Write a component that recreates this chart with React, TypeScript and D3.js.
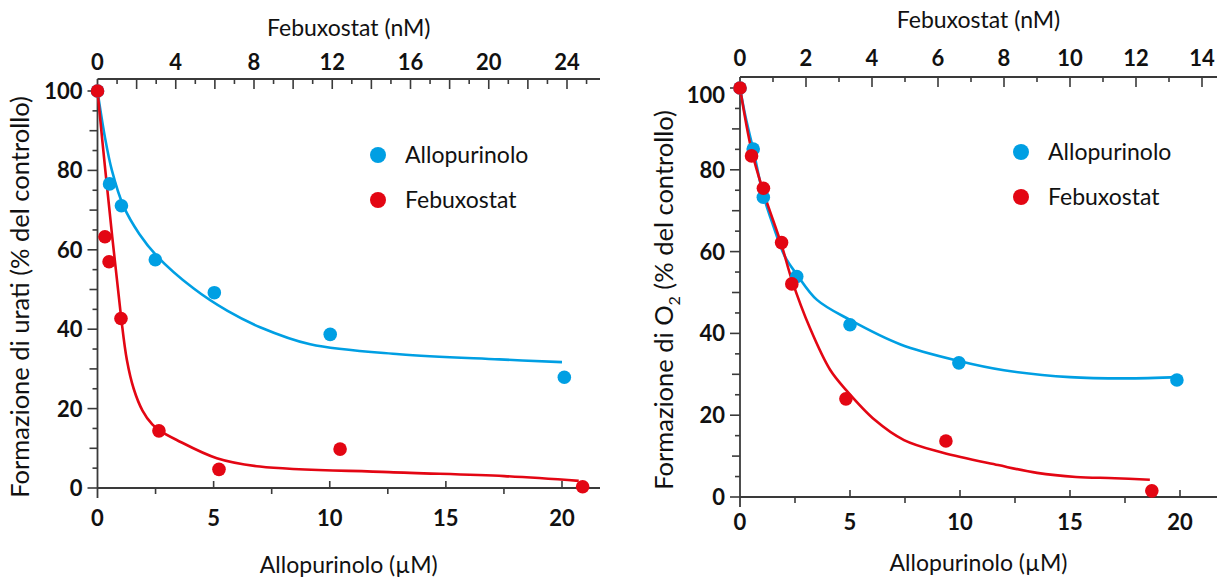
import React from 'react';
import * as d3 from 'd3';

// ---------- DATA ----------
// Left panel: urate formation
const leftAllopX = [0, 0.52, 1.03, 2.49, 5.03, 10.02, 20.1]; // µM
const leftAllopY = [100, 76.6, 71.1, 57.5, 49.2, 38.7, 27.9];
const leftFebuxX = [0, 0.38, 0.59, 1.2, 3.14, 6.21, 12.4, 24.8]; // nM
const leftFebuxY = [100, 63.3, 57, 42.7, 14.4, 4.7, 9.8, 0.3];
const leftAllopCurveX = [0, 0.3, 0.62, 1.12, 1.8, 2.58, 4.13, 5.6, 7, 9.16, 13, 17.3, 20];
const leftAllopCurveY = [100, 89, 80, 71, 64, 58.3, 50.3, 44.6, 40.5, 36.2, 33.7, 32.4, 31.7];
const leftFebuxCurveX = [0, 0.4, 1.2, 1.5, 1.85, 2.3, 2.8, 3.2, 4.05, 6.1, 8.3, 14.9, 20.8, 24.6];
const leftFebuxCurveY = [100, 80, 43.3, 32.3, 25, 19.5, 16, 14.4, 12.1, 7.5, 5.4, 4.0, 3.0, 1.8];

// Right panel: O2 formation
const rightAllopX = [0, 0.6, 1.06, 2.58, 5.0, 9.95, 19.86]; // µM
const rightAllopY = [100, 85.1, 73.3, 53.9, 42.1, 32.8, 28.6];
const rightFebuxX = [0, 0.35, 0.71, 1.26, 1.57, 3.21, 6.24, 12.48]; // nM
const rightFebuxY = [100, 83.4, 75.5, 62.2, 52.1, 24.0, 13.7, 1.5];
const rightAllopCurveX = [0, 0.25, 0.6, 1.05, 1.5, 2.05, 2.6, 3.5, 5.0, 7.3, 10, 12, 15, 17.5, 20];
const rightAllopCurveY = [100, 93, 85, 74, 66.5, 58.7, 54.3, 48.2, 43.3, 37.3, 33.2, 31, 29.3, 29, 29.3];
const rightFebuxCurveX = [0, 0.35, 0.71, 1.26, 1.57, 2.12, 2.73, 3.21, 4.09, 4.97, 6.15, 7.82, 9.0, 10.18, 11.36, 12.42];
const rightFebuxCurveY = [100, 84.8, 74.6, 61.6, 53.1, 41.3, 31.1, 26.2, 18.8, 13.9, 10.8, 7.8, 5.9, 4.9, 4.6, 4.2];

const seriesNames = ['Allopurinolo', 'Febuxostat'];
const bottomTitle = 'Allopurinolo (µM)';
const topTitle = 'Febuxostat (nM)';
const yTicks = [0, 20, 40, 60, 80, 100];
const bottomTicks = [0, 5, 10, 15, 20];

const BLUE = '#009fe3';
const RED = '#e30613';
const AXIS = '#3a3a3a';
const FONT = 'Lato, "Open Sans", sans-serif';

const zip = (a: number[], b: number[]) => a.map((v, i) => [v, b[i]] as [number, number]);

type Cfg = {
  x0: number; xEnd: number;
  botMax: number; botMaxPx: number;
  topMax: number; topMaxPx: number; topLabelStep: number; topTickMax: number;
  yBot: number; y100: number; yTopAxis: number; label100Dy: number;
  allop: [number, number][]; febux: [number, number][];
  allopCurve: [number, number][]; febuxCurve: [number, number][];
  yTitle: React.ReactNode; yTitleX: number; yTitleY: number;
  topTitleY: number; topLabelY: number; botLabelY: number; botTitleY: number;
  legendX: number; legendY1: number; legendY2: number;
};

function Panel({ c }: { c: Cfg }) {
  const xB = d3.scaleLinear().domain([0, c.botMax]).range([c.x0, c.botMaxPx]);
  const xT = d3.scaleLinear().domain([0, c.topMax]).range([c.x0, c.topMaxPx]);
  const y = d3.scaleLinear().domain([0, 100]).range([c.yBot, c.y100]);
  const curve = d3.curveCatmullRom.alpha(0.5);
  const lineB = d3.line<[number, number]>().x(d => xB(d[0])).y(d => y(d[1])).curve(curve);
  const lineT = d3.line<[number, number]>().x(d => xT(d[0])).y(d => y(d[1])).curve(curve);
  const yMinor = d3.range(0, 101, 5);
  const botMinor = d3.range(2.5, 20, 5);
  const topAll = d3.range(1, c.topTickMax + 1, 1);
  const topLabels = d3.range(0, c.topTickMax + 0.01, c.topLabelStep);
  const midX = (c.x0 + c.xEnd) / 2;
  return (
    <g>
      {/* axes lines */}
      <line x1={c.x0} x2={c.x0} y1={c.yTopAxis} y2={c.yBot + 10} stroke={AXIS} strokeWidth={1.8} />
      <line x1={c.x0} x2={c.xEnd} y1={c.yBot} y2={c.yBot} stroke={AXIS} strokeWidth={1.8} />
      <line x1={c.x0} x2={c.xEnd} y1={c.yTopAxis} y2={c.yTopAxis} stroke={AXIS} strokeWidth={1.8} />
      {/* y ticks */}
      {yMinor.map(v => {
        const len = v % 20 === 0 ? 10 : v % 10 === 0 ? 8 : 5;
        return <line key={'y' + v} x1={c.x0 - len} x2={c.x0} y1={y(v)} y2={y(v)} stroke={AXIS} strokeWidth={1.6} />;
      })}
      {yTicks.map(v => (
        <text key={'yl' + v} x={c.x0 - 15} y={y(v) + (v === 100 ? c.label100Dy : 0)} dy="0.36em" textAnchor="end" fontSize={22} fontWeight={700} fontFamily={FONT} fill="#111">{v}</text>
      ))}
      {/* bottom ticks */}
      {bottomTicks.filter(v => v > 0).map(v => (
        <line key={'b' + v} x1={xB(v)} x2={xB(v)} y1={c.yBot} y2={c.yBot - 7} stroke={AXIS} strokeWidth={1.6} />
      ))}
      {botMinor.map(v => (
        <line key={'bm' + v} x1={xB(v)} x2={xB(v)} y1={c.yBot} y2={c.yBot + 6} stroke={AXIS} strokeWidth={1.6} />
      ))}
      {bottomTicks.map(v => (
        <text key={'bl' + v} x={xB(v)} y={c.botLabelY} dy="0.36em" textAnchor="middle" fontSize={22} fontWeight={700} fontFamily={FONT} fill="#111">{v}</text>
      ))}
      {/* top ticks */}
      {topAll.map(v => (
        <line key={'t' + v} x1={xT(v)} x2={xT(v)} y1={c.yTopAxis} y2={c.yTopAxis + (v % 2 === 0 ? 10 : 5)} stroke={AXIS} strokeWidth={1.6} />
      ))}
      {topLabels.map(v => (
        <text key={'tl' + v} x={xT(v)} y={c.topLabelY} dy="0.36em" textAnchor="middle" fontSize={22} fontWeight={700} fontFamily={FONT} fill="#111">{v}</text>
      ))}
      {/* titles */}
      <text x={midX} y={c.topTitleY} textAnchor="middle" fontSize={23} fontFamily={FONT} fill="#111">{topTitle}</text>
      <text x={midX} y={c.botTitleY} textAnchor="middle" fontSize={23} fontFamily={FONT} fill="#111">{bottomTitle}</text>
      <text transform={`translate(${c.yTitleX},${c.yTitleY}) rotate(-90)`} textAnchor="middle" dy="0.36em" fontSize={25.5} fontFamily={FONT} fill="#111">{c.yTitle}</text>
      {/* curves */}
      <path d={lineB(c.allopCurve) || ''} fill="none" stroke={BLUE} strokeWidth={2.6} />
      <path d={lineT(c.febuxCurve) || ''} fill="none" stroke={RED} strokeWidth={2.6} />
      {/* points */}
      {c.allop.map((d, i) => <circle key={'a' + i} cx={xB(d[0])} cy={y(d[1])} r={6.8} fill={BLUE} />)}
      {c.febux.map((d, i) => <circle key={'f' + i} cx={xT(d[0])} cy={y(d[1])} r={6.8} fill={RED} />)}
      {/* legend */}
      <circle cx={c.legendX} cy={c.legendY1} r={8} fill={BLUE} />
      <text x={c.legendX + 27} y={c.legendY1} dy="0.36em" fontSize={23} fontFamily={FONT} fill="#111">{seriesNames[0]}</text>
      <circle cx={c.legendX} cy={c.legendY2} r={8} fill={RED} />
      <text x={c.legendX + 27} y={c.legendY2} dy="0.36em" fontSize={23} fontFamily={FONT} fill="#111">{seriesNames[1]}</text>
    </g>
  );
}

export default function App() {
  const left: Cfg = {
    x0: 97.5, xEnd: 600,
    botMax: 20, botMaxPx: 562,
    topMax: 24, topMaxPx: 567, topLabelStep: 4, topTickMax: 25,
    yBot: 488, y100: 91, yTopAxis: 79, label100Dy: 0,
    allop: zip(leftAllopX, leftAllopY), febux: zip(leftFebuxX, leftFebuxY),
    allopCurve: zip(leftAllopCurveX, leftAllopCurveY), febuxCurve: zip(leftFebuxCurveX, leftFebuxCurveY),
    yTitle: 'Formazione di urati (% del controllo)', yTitleX: 20, yTitleY: 297,
    topTitleY: 36, topLabelY: 62, botLabelY: 518, botTitleY: 573,
    legendX: 378, legendY1: 155, legendY2: 200,
  };
  const right: Cfg = {
    x0: 740, xEnd: 1217,
    botMax: 20, botMaxPx: 1180,
    topMax: 14, topMaxPx: 1202, topLabelStep: 2, topTickMax: 14,
    yBot: 497, y100: 88, yTopAxis: 77, label100Dy: 7,
    allop: zip(rightAllopX, rightAllopY), febux: zip(rightFebuxX, rightFebuxY),
    allopCurve: zip(rightAllopCurveX, rightAllopCurveY), febuxCurve: zip(rightFebuxCurveX, rightFebuxCurveY),
    yTitle: (<>Formazione di O<tspan fontSize={16} dy="7">2</tspan><tspan dy="-7"> (% del controllo)</tspan></>),
    yTitleX: 664, yTitleY: 300,
    topTitleY: 28, topLabelY: 58, botLabelY: 522, botTitleY: 571,
    legendX: 1021, legendY1: 152, legendY2: 197,
  };
  return (
    <svg width={1220} height={579} style={{ position: 'absolute', left: 0, top: 0, background: '#fff' }}>
      <rect width={1220} height={579} fill="#fff" />
      <Panel c={left} />
      <Panel c={right} />
    </svg>
  );
}
